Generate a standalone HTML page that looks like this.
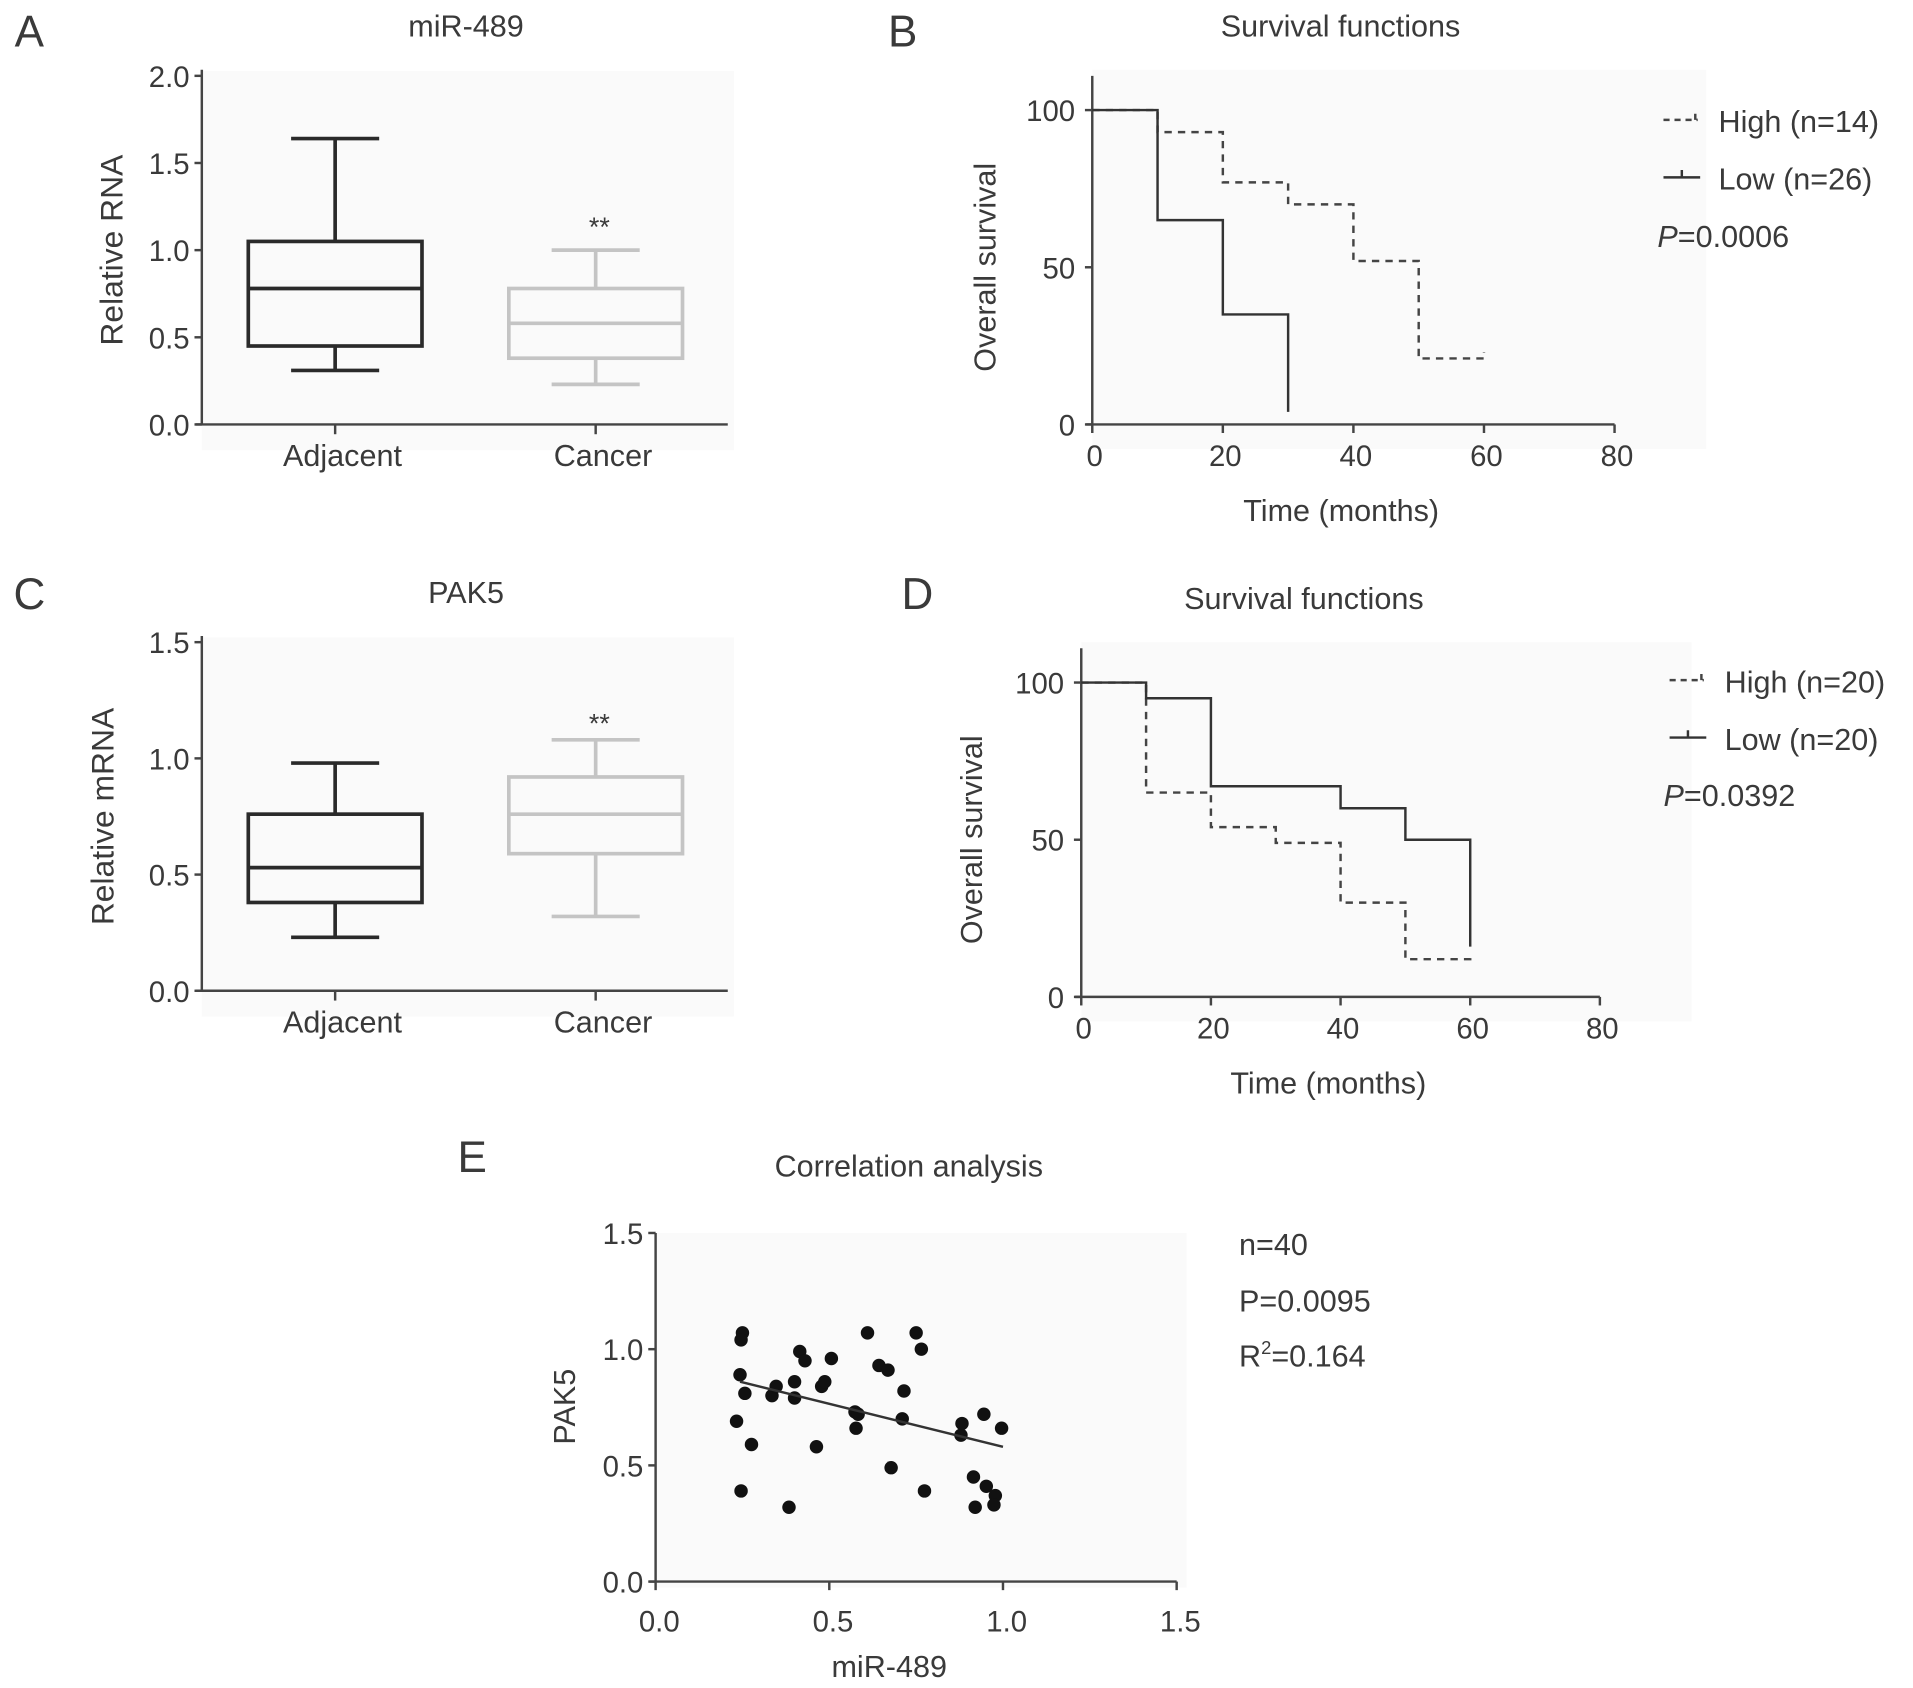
<!DOCTYPE html>
<html><head><meta charset="utf-8"><style>
html,body{margin:0;padding:0;background:#fff;}
svg{display:block;font-family:"Liberation Sans",sans-serif;}
text{fill:#3a3a3a;}
</style></head><body>
<svg id="fig" width="1913" height="1688" viewBox="0 0 1564 1380" preserveAspectRatio="none" xmlns="http://www.w3.org/2000/svg"></svg>
<script>
// ---- Panel A data (miR-489) ----
const catsA = ["Adjacent","Cancer"];
const boxA_min = [0.31, 0.23];
const boxA_q1 = [0.45, 0.38];
const boxA_med = [0.78, 0.58];
const boxA_q3 = [1.05, 0.78];
const boxA_max = [1.64, 1.00];
const ticksA = [0, 0.5, 1.0, 1.5, 2.0];
// ---- Panel C data (PAK5) ----
const catsC = ["Adjacent","Cancer"];
const boxC_min = [0.23, 0.32];
const boxC_q1 = [0.38, 0.59];
const boxC_med = [0.53, 0.76];
const boxC_q3 = [0.76, 0.92];
const boxC_max = [0.98, 1.08];
const ticksC = [0, 0.5, 1.0, 1.5];
// ---- Panel B survival ----
const survB_lowT = [0, 10, 20, 30];
const survB_lowS = [100, 65, 35, 4];
const survB_highT = [0, 10, 20, 30, 40, 50, 60];
const survB_highS = [100, 93, 77, 70, 52, 21, 23];
// ---- Panel D survival ----
const survD_lowT = [0, 10, 20, 40, 50, 60];
const survD_lowS = [100, 95, 67, 60, 50, 16];
const survD_highT = [0, 10, 20, 30, 40, 50, 60];
const survD_highS = [100, 65, 54, 49, 30, 12, 14];
const ticksSurvX = [0, 20, 40, 60, 80];
const ticksSurvY = [0, 50, 100];
// ---- Panel E scatter ----
const scatX = [0.25,0.246,0.243,0.257,0.233,0.276,0.246,0.335,0.347,0.384,0.40,0.40,0.415,0.43,0.478,0.487,0.463,0.506,0.574,0.583,0.577,0.61,0.643,0.669,0.678,0.715,0.71,0.75,0.765,0.774,0.879,0.882,0.915,0.92,0.945,0.952,0.978,0.974,0.996];
const scatY = [1.07,1.04,0.89,0.81,0.69,0.59,0.39,0.80,0.84,0.32,0.86,0.79,0.99,0.95,0.84,0.86,0.58,0.96,0.73,0.72,0.66,1.07,0.93,0.91,0.49,0.82,0.70,1.07,1.00,0.39,0.63,0.68,0.45,0.32,0.72,0.41,0.37,0.33,0.66];
const fitX = [0.243, 1.0];
const fitY = [0.86, 0.58];
const ticksE = [0, 0.5, 1.0, 1.5];

const NS = "http://www.w3.org/2000/svg";
const svg = document.getElementById('fig');
function el(tag, attrs, parent){const e=document.createElementNS(NS,tag);for(const k in attrs)e.setAttribute(k,attrs[k]);(parent||svg).appendChild(e);return e;}
function txt(x,y,s,size,anchor,parent,rot){const t=el('text',{x:x,y:y,'font-size':size,'text-anchor':anchor||'middle'},parent);if(rot)t.setAttribute('transform','rotate(-90 '+x+' '+y+')');t.textContent=s;return t;}
function grp(name){const g=el('g',{});return g;}

[["A",24,38],["B",738,38],["C",24,498],["D",750,498],["E",386,958]].forEach(a=>{const t=txt(a[1],a[2],a[0],36,'middle');});

function boxPanel(name,title,ylab,y0,y1,vmax,ticks,cats,mn,q1,md,q3,mx,starY,ylabX){
  const g=grp(name);
  el('rect',{x:165,y:y1-4,width:435,height:y0-y1+25,fill:'#fafafa'},g);
  const ys=v=>y0-(y0-y1)*v/vmax;
  const xc=[274,487];
  el('line',{x1:165,y1:y1-5,x2:165,y2:y0,stroke:'#444','stroke-width':2},g);
  el('line',{x1:160,y1:y0,x2:595,y2:y0,stroke:'#444','stroke-width':2},g);
  ticks.forEach(v=>{el('line',{x1:159,x2:165,y1:ys(v),y2:ys(v),stroke:'#444','stroke-width':2},g);const t=txt(155,ys(v)+9,v.toFixed(1),24,'end',g);});
  cats.forEach((c,i)=>{
    const x=xc[i];const col=i==0?'#2a2a2a':'#c4c4c4';
    el('line',{x1:x,x2:x,y1:y0,y2:y0+8,stroke:'#444','stroke-width':2},g);
    const t=txt(x+6,y0+34,c,25,'middle',g);
    const b=el('g',{},g);
    el('line',{x1:x,x2:x,y1:ys(mx[i]),y2:ys(q3[i]),stroke:col,'stroke-width':3},b);
    el('line',{x1:x,x2:x,y1:ys(q1[i]),y2:ys(mn[i]),stroke:col,'stroke-width':3},b);
    el('line',{x1:x-36,x2:x+36,y1:ys(mx[i]),y2:ys(mx[i]),stroke:col,'stroke-width':3},b);
    el('line',{x1:x-36,x2:x+36,y1:ys(mn[i]),y2:ys(mn[i]),stroke:col,'stroke-width':3},b);
    el('rect',{x:x-71,y:ys(q3[i]),width:142,height:ys(q1[i])-ys(q3[i]),fill:'none',stroke:col,'stroke-width':3},b);
    el('line',{x1:x-71,x2:x+71,y1:ys(md[i]),y2:ys(md[i]),stroke:col,'stroke-width':3},b);
  });
  const s=txt(490,starY,'**',22,'middle',g);
  const tt=txt(381,y1-32,title,25,'middle',g);
  const yl=txt(ylabX,(y0+y1)/2,ylab,26,'middle',g,true);
}
boxPanel('panel-a-boxplot','miR-489','Relative RNA',347,62,2.0,ticksA,catsA,boxA_min,boxA_q1,boxA_med,boxA_q3,boxA_max,193,100);
boxPanel('panel-c-boxplot','PAK5','Relative mRNA',810,525,1.5,ticksC,catsC,boxC_min,boxC_q1,boxC_med,boxC_q3,boxC_max,599,93);

function stepPath(T,S,xs,ys){
  let d='M'+xs(T[0])+' '+ys(S[0]);
  for(let i=0;i<T.length;i++){
    const nextT = i+1<T.length?T[i+1]:null;
    if(i>0){d+=' L'+xs(T[i])+' '+ys(S[i]);}
    if(nextT!=null){d+=' L'+xs(nextT)+' '+ys(S[i]);}
  }
  return d;
}
function survPanel(name,x0,x1,y0,y100,ytop,lowT,lowS,highT,highS,legY,legX,nH,nL,pTxt,pY,titleX,ylabX){
  const g=grp(name);
  el('rect',{x:x0,y:ytop-5,width:x1-x0+75,height:y0-ytop+25,fill:'#fafafa'},g);
  const xs=t=>x0+(x1-x0)*t/80, ys=v=>y0-(y0-y100)*v/100;
  el('line',{x1:x0,y1:ytop,x2:x0,y2:y0,stroke:'#444','stroke-width':2},g);
  el('line',{x1:x0-5,y1:y0,x2:x1,y2:y0,stroke:'#444','stroke-width':2},g);
  ticksSurvY.forEach(v=>{el('line',{x1:x0-6,x2:x0,y1:ys(v),y2:ys(v),stroke:'#444','stroke-width':2},g);const t=txt(x0-14,ys(v)+9,String(v),24,'end',g);});
  ticksSurvX.forEach(v=>{el('line',{x1:xs(v),x2:xs(v),y1:y0,y2:y0+7,stroke:'#444','stroke-width':2},g);const t=txt(xs(v)+2,y0+34,String(v),24,'middle',g);});
  const hT=highT.slice(0,-1), hS=highS.slice(0,-1);
  let d=stepPath(hT,hS,xs,ys)+' L'+xs(highT[highT.length-1])+' '+ys(hS[hS.length-1])+' L'+xs(highT[highT.length-1])+' '+ys(highS[highS.length-1]);
  const hp=el('path',{d:d,fill:'none',stroke:'#444','stroke-width':2,'stroke-dasharray':'6,5'},g);
  
  const lp=el('path',{d:stepPath(lowT,lowS,xs,ys),fill:'none',stroke:'#333','stroke-width':2},g);
  
  const lg=el('g',{},g);
  el('path',{d:'M'+legX+' '+(legY-2)+' h28 M'+(legX+26)+' '+(legY-2)+' v-5',fill:'none',stroke:'#444','stroke-width':2,'stroke-dasharray':'5,4'},lg);
  const t1=txt(legX+45,legY+8,'High (n='+nH+')',25,'start',lg);
  el('path',{d:'M'+legX+' '+(legY+45)+' h30 M'+(legX+15)+' '+(legY+45)+' v-6',fill:'none',stroke:'#333','stroke-width':2},lg);
  const t2=txt(legX+45,legY+55,'Low (n='+nL+')',25,'start',lg);
  const p=el('text',{x:legX-5,y:pY,'font-size':25,'text-anchor':'start'},g);
  const pi=el('tspan',{'font-style':'italic'},p);pi.textContent='P';const pr=el('tspan',{},p);pr.textContent='='+pTxt;
  const tt=txt(titleX,ytop-32,'Survival functions',25,'middle',g);
  const xl=txt((x0+x1)/2-10,y0+79,'Time (months)',25,'middle',g);
  const yl=txt(ylabX,(y0+ytop)/2+14,'Overall survival',25,'middle',g,true);
}
survPanel('panel-b-survival',893,1320,347,90,62,survB_lowT,survB_lowS,survB_highT,survB_highS,100,1360,14,26,'0.0006',202,1096,814);
survPanel('panel-d-survival',884,1308,815,558,530,survD_lowT,survD_lowS,survD_highT,survD_highS,558,1365,20,20,'0.0392',659,1066,803);

(function(){
  const g=grp('panel-e-scatter');
  const x0=536,x1=962,y0=1293,y1=1008;
  el('rect',{x:x0,y:y1,width:x1-x0+8,height:y0-y1+5,fill:'#fafafa'},g);
  const xs=v=>x0+(x1-x0)*v/1.5, ys=v=>y0-(y0-y1)*v/1.5;
  el('line',{x1:x0,y1:y1,x2:x0,y2:y0,stroke:'#444','stroke-width':2},g);
  el('line',{x1:x0-5,y1:y0,x2:x1,y2:y0,stroke:'#444','stroke-width':2},g);
  ticksE.forEach(v=>{
    el('line',{x1:x0-6,x2:x0,y1:ys(v),y2:ys(v),stroke:'#444','stroke-width':2},g);
    const t=txt(x0-10,ys(v)+9,v.toFixed(1),24,'end',g);
    el('line',{x1:xs(v),x2:xs(v),y1:y0,y2:y0+7,stroke:'#444','stroke-width':2},g);
    const t2=txt(xs(v)+3,y0+41,v.toFixed(1),24,'middle',g);
  });
  scatX.forEach((x,i)=>{const c=el('circle',{cx:xs(x),cy:ys(scatY[i]),r:5.5,fill:'#111'},g);});
  const fl=el('line',{x1:xs(fitX[0]),y1:ys(fitY[0]),x2:xs(fitX[1]),y2:ys(fitY[1]),stroke:'#333','stroke-width':2},g);
  
  const tt=txt(743,962,'Correlation analysis',25,'middle',g);
  const xl=txt(727,1371,'miR-489',25,'middle',g);
  const yl=txt(470,1150,'PAK5',25,'middle',g,true);
  const s1=txt(1013,1026,'n=40',25,'start',g);
  const s2=txt(1013,1072,'P=0.0095',25,'start',g);
  const s3=el('text',{x:1013,y:1117,'font-size':25,'text-anchor':'start'},g);
  const a=el('tspan',{},s3);a.textContent='R';const b=el('tspan',{dy:-10,'font-size':15},s3);b.textContent='2';const c=el('tspan',{dy:10},s3);c.textContent='=0.164';
})();
</script>
</body></html>
